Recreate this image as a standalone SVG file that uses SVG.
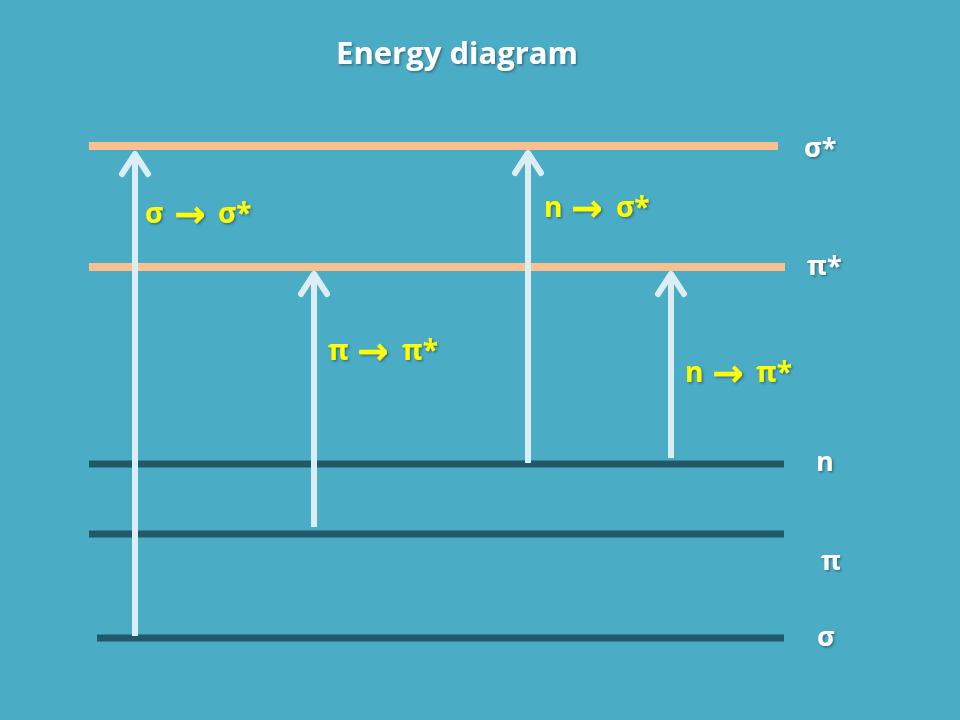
<svg xmlns="http://www.w3.org/2000/svg" width="960" height="720" viewBox="0 0 960 720">
  <defs>
    <style>
      .bg { fill: #4BACC6; }
      .upper { stroke: #FAC090; stroke-width: 8; }
      .lower { stroke: #215968; stroke-width: 7; }
      .arrow { stroke: #DBEEF6; stroke-width: 6; fill: none; marker-end: url(#chev); }
      .lbl { font-family: "Open Sans", "Liberation Sans", sans-serif; font-weight: bold; font-size: 28px; fill: #FFFF00; filter: url(#sh); }
      .ar { font-family: "DejaVu Sans", sans-serif; font-weight: bold; font-size: 38px; }
      .lvl { font-family: "Open Sans", "Liberation Sans", sans-serif; font-weight: bold; font-size: 27px; fill: #FFFFFF; filter: url(#sh); }
      .title { font-family: "Open Sans", "Liberation Sans", sans-serif; font-weight: bold; font-size: 31px; fill: #FFFFFF; filter: url(#sh); }
    </style>
    <filter id="sh" x="-10%" y="-20%" width="120%" height="150%">
      <feDropShadow dx="1.5" dy="1.5" stdDeviation="0.8" flood-color="#000000" flood-opacity="0.35"/>
    </filter>
    <marker id="chev" markerUnits="userSpaceOnUse" viewBox="-26 -18 30 36" refX="0" refY="0" markerWidth="30" markerHeight="36" orient="auto" overflow="visible">
      <path d="M-20,-13 L0,0 L-20,13" fill="none" stroke="#DBEEF6" stroke-width="6" stroke-linecap="round" stroke-linejoin="round"/>
    </marker>
  </defs>
  <rect class="bg" x="0" y="0" width="960" height="720"/>
  <text class="title" x="457" y="64" text-anchor="middle">Energy diagram</text>

  <g id="level-sigma-star">
    <line class="upper" x1="89" y1="146" x2="778" y2="146"/>
    <text class="lvl" x="804" y="157">σ*</text>
  </g>
  <g id="level-pi-star">
    <line class="upper" x1="89" y1="267" x2="785" y2="267"/>
    <text class="lvl" x="807" y="275">π*</text>
  </g>
  <g id="level-n">
    <line class="lower" x1="89" y1="464" x2="784" y2="464"/>
    <text class="lvl" x="816" y="471">n</text>
  </g>
  <g id="level-pi">
    <line class="lower" x1="89" y1="534" x2="784" y2="534"/>
    <text class="lvl" x="821" y="570">π</text>
  </g>
  <g id="level-sigma">
    <line class="lower" x1="97" y1="638" x2="784" y2="638"/>
    <text class="lvl" x="817" y="646">σ</text>
  </g>

  <g id="connectors">
    <line class="arrow" x1="135" y1="636" x2="135" y2="154"/>
    <line class="arrow" x1="314" y1="527" x2="314" y2="274"/>
    <line class="arrow" x1="528" y1="463" x2="528" y2="153"/>
    <line class="arrow" x1="671" y1="458" x2="671" y2="274"/>
  </g>

  <g id="labels">
    <text class="lbl" y="223"><tspan x="145">σ</tspan><tspan class="ar" x="174" y="227">→</tspan><tspan x="218" y="223">σ*</tspan></text>
    <text class="lbl" y="217"><tspan x="544">n</tspan><tspan class="ar" x="571" y="221">→</tspan><tspan x="616" y="217">σ*</tspan></text>
    <text class="lbl" y="360"><tspan x="328">π</tspan><tspan class="ar" x="357" y="364">→</tspan><tspan x="402" y="360">π*</tspan></text>
    <text class="lbl" y="382"><tspan x="685">n</tspan><tspan class="ar" x="712" y="386">→</tspan><tspan x="756" y="382">π*</tspan></text>
  </g>
</svg>
